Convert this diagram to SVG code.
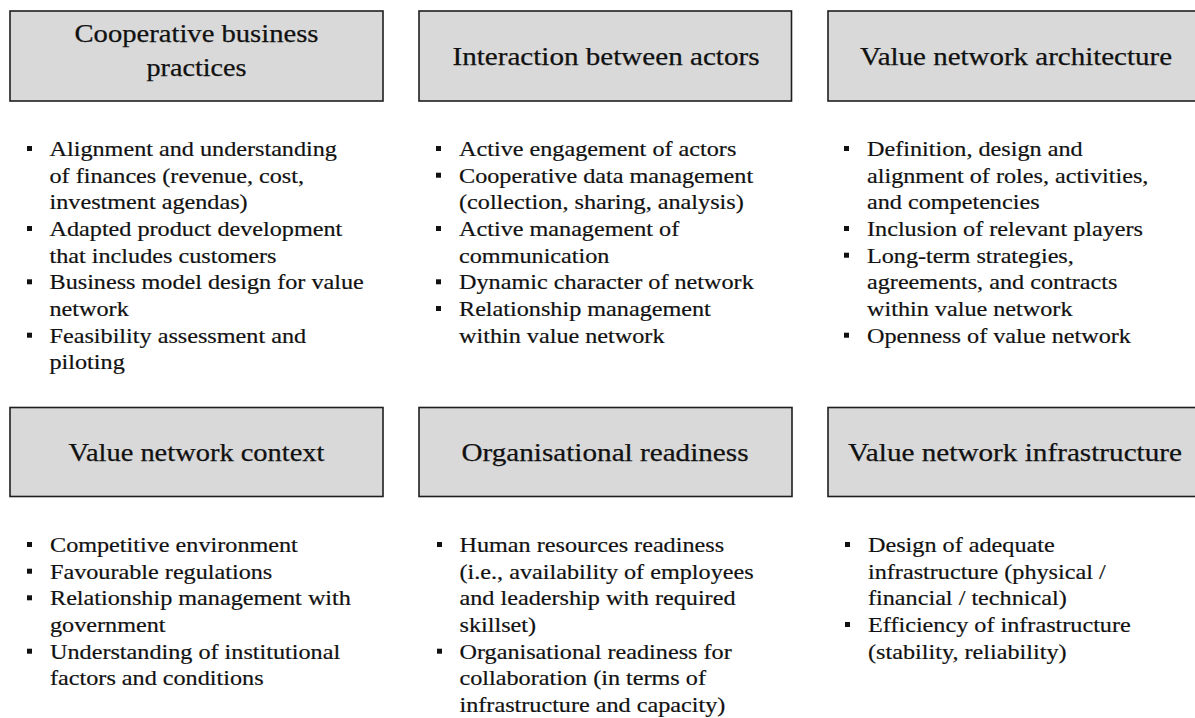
<svg xmlns="http://www.w3.org/2000/svg" width="1195" height="718" viewBox="0 0 1195 718">
  <style>
    .box { fill: #d9d9d9; stroke: #1e1e1e; stroke-width: 1.6; }
    .head { font-family: "Liberation Serif", "Times New Roman", serif; font-size: 25px; fill: #111111; stroke: #111111; stroke-width: 0.25; text-anchor: middle; }
    .item { font-family: "Liberation Serif", "Times New Roman", serif; font-size: 22px; fill: #111111; stroke: #111111; stroke-width: 0.2; }
    .dot { fill: #111111; }
  </style>
  <rect x="0" y="0" width="1195" height="718" fill="#ffffff"/>

  <!-- Top row -->
  <g id="cooperative-business-practices">
    <rect class="box" x="10" y="11" width="373" height="90"/>
    <text class="head" x="196.5" y="42" textLength="244" lengthAdjust="spacingAndGlyphs">Cooperative business</text>
    <text class="head" x="196.5" y="76" textLength="100" lengthAdjust="spacingAndGlyphs">practices</text>
    <rect class="dot" x="27" y="146" width="5" height="5"/>
    <rect class="dot" x="27" y="226" width="5" height="5"/>
    <rect class="dot" x="27" y="279.3" width="5" height="5"/>
    <rect class="dot" x="27" y="332.7" width="5" height="5"/>
    <g transform="translate(49.5,0) scale(1.1,1)">
      <text class="item" x="0" y="156">Alignment and understanding</text>
      <text class="item" x="0" y="182.7">of finances (revenue, cost,</text>
      <text class="item" x="0" y="209.3">investment agendas)</text>
      <text class="item" x="0" y="236">Adapted product development</text>
      <text class="item" x="0" y="262.7">that includes customers</text>
      <text class="item" x="0" y="289.3">Business model design for value</text>
      <text class="item" x="0" y="316">network</text>
      <text class="item" x="0" y="342.7">Feasibility assessment and</text>
      <text class="item" x="0" y="369.3">piloting</text>
    </g>
  </g>

  <g id="interaction-between-actors">
    <rect class="box" x="419" y="11" width="372.5" height="90"/>
    <text class="head" x="606" y="65" textLength="307" lengthAdjust="spacingAndGlyphs">Interaction between actors</text>
    <rect class="dot" x="436" y="146" width="5" height="5"/>
    <rect class="dot" x="436" y="172.7" width="5" height="5"/>
    <rect class="dot" x="436" y="226" width="5" height="5"/>
    <rect class="dot" x="436" y="279.3" width="5" height="5"/>
    <rect class="dot" x="436" y="306" width="5" height="5"/>
    <g transform="translate(459,0) scale(1.1,1)">
      <text class="item" x="0" y="156">Active engagement of actors</text>
      <text class="item" x="0" y="182.7">Cooperative data management</text>
      <text class="item" x="0" y="209.3">(collection, sharing, analysis)</text>
      <text class="item" x="0" y="236">Active management of</text>
      <text class="item" x="0" y="262.7">communication</text>
      <text class="item" x="0" y="289.3">Dynamic character of network</text>
      <text class="item" x="0" y="316">Relationship management</text>
      <text class="item" x="0" y="342.7">within value network</text>
    </g>
  </g>

  <g id="value-network-architecture">
    <rect class="box" x="828" y="11" width="380" height="90"/>
    <text class="head" x="1016" y="65" textLength="312" lengthAdjust="spacingAndGlyphs">Value network architecture</text>
    <rect class="dot" x="844" y="146" width="5" height="5"/>
    <rect class="dot" x="844" y="226" width="5" height="5"/>
    <rect class="dot" x="844" y="252.7" width="5" height="5"/>
    <rect class="dot" x="844" y="332.7" width="5" height="5"/>
    <g transform="translate(867,0) scale(1.1,1)">
      <text class="item" x="0" y="156">Definition, design and</text>
      <text class="item" x="0" y="182.7">alignment of roles, activities,</text>
      <text class="item" x="0" y="209.3">and competencies</text>
      <text class="item" x="0" y="236">Inclusion of relevant players</text>
      <text class="item" x="0" y="262.7">Long-term strategies,</text>
      <text class="item" x="0" y="289.3">agreements, and contracts</text>
      <text class="item" x="0" y="316">within value network</text>
      <text class="item" x="0" y="342.7">Openness of value network</text>
    </g>
  </g>

  <!-- Bottom row -->
  <g id="value-network-context">
    <rect class="box" x="10" y="407.5" width="373" height="89"/>
    <text class="head" x="196.5" y="461" textLength="256" lengthAdjust="spacingAndGlyphs">Value network context</text>
    <rect class="dot" x="27" y="542" width="5" height="5"/>
    <rect class="dot" x="27" y="568.7" width="5" height="5"/>
    <rect class="dot" x="27" y="595.3" width="5" height="5"/>
    <rect class="dot" x="27" y="648.7" width="5" height="5"/>
    <g transform="translate(50,0) scale(1.1,1)">
      <text class="item" x="0" y="552">Competitive environment</text>
      <text class="item" x="0" y="578.7">Favourable regulations</text>
      <text class="item" x="0" y="605.3">Relationship management with</text>
      <text class="item" x="0" y="632">government</text>
      <text class="item" x="0" y="658.7">Understanding of institutional</text>
      <text class="item" x="0" y="685.3">factors and conditions</text>
    </g>
  </g>

  <g id="organisational-readiness">
    <rect class="box" x="419" y="407.5" width="373" height="89"/>
    <text class="head" x="605" y="461" textLength="287" lengthAdjust="spacingAndGlyphs">Organisational readiness</text>
    <rect class="dot" x="437" y="542" width="5" height="5"/>
    <rect class="dot" x="437" y="648.7" width="5" height="5"/>
    <g transform="translate(459.5,0) scale(1.1,1)">
      <text class="item" x="0" y="552">Human resources readiness</text>
      <text class="item" x="0" y="578.7">(i.e., availability of employees</text>
      <text class="item" x="0" y="605.3">and leadership with required</text>
      <text class="item" x="0" y="632">skillset)</text>
      <text class="item" x="0" y="658.7">Organisational readiness for</text>
      <text class="item" x="0" y="685.3">collaboration (in terms of</text>
      <text class="item" x="0" y="712">infrastructure and capacity)</text>
    </g>
  </g>

  <g id="value-network-infrastructure">
    <rect class="box" x="828" y="407.5" width="380" height="89"/>
    <text class="head" x="1015" y="461" textLength="334" lengthAdjust="spacingAndGlyphs">Value network infrastructure</text>
    <rect class="dot" x="845" y="542" width="5" height="5"/>
    <rect class="dot" x="845" y="622" width="5" height="5"/>
    <g transform="translate(868,0) scale(1.1,1)">
      <text class="item" x="0" y="552">Design of adequate</text>
      <text class="item" x="0" y="578.7">infrastructure (physical /</text>
      <text class="item" x="0" y="605.3">financial / technical)</text>
      <text class="item" x="0" y="632">Efficiency of infrastructure</text>
      <text class="item" x="0" y="658.7">(stability, reliability)</text>
    </g>
  </g>
</svg>
